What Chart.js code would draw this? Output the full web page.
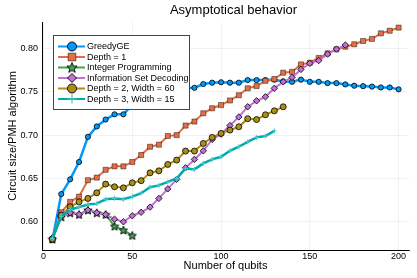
<!DOCTYPE html>
<html>
<head>
<meta charset="utf-8">
<script src="https://cdn.jsdelivr.net/npm/chart.js@4"></script>
<style>
  html, body { margin: 0; padding: 0; background: #fff; }
  #wrap { width: 417px; height: 278px; }
</style>
</head>
<body>
<div id="wrap"><canvas id="chart" width="417" height="278"></canvas></div>
<script>
// data
const qubits = [5, 10, 15, 20, 25, 30, 35, 40, 45, 50, 55, 60, 65, 70, 75, 80, 85, 90, 95, 100,
  105, 110, 115, 120, 125, 130, 135, 140, 145, 150, 155, 160, 165, 170, 175, 180, 185, 190, 195, 200];

const greedyGE = [0.579, 0.632, 0.649, 0.669, 0.698, 0.710, 0.718, 0.724, 0.724, 0.735,
  0.743, 0.748, 0.751, 0.752, 0.753, 0.754, 0.7546, 0.759, 0.7605, 0.761,
  0.7605, 0.7605, 0.7635, 0.7635, 0.7635, 0.764, 0.762, 0.7615, 0.764, 0.7615,
  0.7615, 0.760, 0.760, 0.7585, 0.757, 0.7565, 0.756, 0.755, 0.755, 0.7528];

const depth1 = [0.580, 0.611, 0.623, 0.629, 0.648, 0.651, 0.660, 0.664, 0.664, 0.669,
  0.677, 0.6866, 0.689, 0.699, 0.700, 0.711, 0.7157, 0.7252, 0.731, 0.7347,
  0.740, 0.746, 0.754, 0.7566, 0.7627, 0.7646, 0.772, 0.773, 0.7816, 0.7835,
  0.789, 0.7943, 0.799, 0.802, 0.8048, 0.8086, 0.811, 0.8174, 0.8204, 0.824];

const integerProg = [0.580, 0.6058, 0.6104, 0.6085, 0.6135, 0.6104, 0.6085, 0.595, 0.5905, 0.5843];

const infoSetDec = [0.5815, 0.6058, 0.6104, 0.6085, 0.6135, 0.6104, 0.6085, 0.6031, 0.600, 0.607,
  0.611, 0.617, 0.627, 0.638, 0.649, 0.6623, 0.672, 0.6819, 0.695, 0.7012,
  0.711, 0.721, 0.7327, 0.7396, 0.7442, 0.754, 0.7615, 0.7666, 0.7758, 0.7828,
  0.786, 0.7935, 0.7993, 0.8039];

const depth2w60 = [0.580, 0.6077, 0.6173, 0.623, 0.627, 0.6335, 0.6435, 0.6404, 0.6392, 0.645,
  0.6475, 0.6565, 0.6588, 0.6662, 0.6712, 0.6816, 0.6816, 0.6904, 0.6974, 0.702,
  0.7058, 0.7096, 0.719, 0.718, 0.7235, 0.728, 0.7327];

const depth3w15 = [0.581, 0.606, 0.614, 0.617, 0.620, 0.621, 0.626, 0.627, 0.626, 0.629,
  0.633, 0.640, 0.642, 0.646, 0.650, 0.6616, 0.6605, 0.6674, 0.672, 0.675,
  0.682, 0.6866, 0.6923, 0.6974, 0.699, 0.705];

const xTicks = [0, 50, 100, 150, 200];
const yTicks = [0.60, 0.65, 0.70, 0.75, 0.80];

const FONT = "'Liberation Sans', Arial, sans-serif";

// filled five point star for the Integer Programming markers
function makeStar(size, fill) {
  const c = document.createElement("canvas");
  c.width = size; c.height = size;
  const g = c.getContext("2d");
  const cx = size / 2, cy = size / 2 + 0.5, ro = size / 2 - 0.6, ri = ro * 0.45;
  g.beginPath();
  for (let i = 0; i < 10; i++) {
    const r = i % 2 ? ri : ro;
    const a = -Math.PI / 2 + i * Math.PI / 5;
    g.lineTo(cx + r * Math.cos(a), cy + r * Math.sin(a));
  }
  g.closePath();
  g.fillStyle = fill; g.fill();
  g.strokeStyle = "#000"; g.lineWidth = 0.9; g.stroke();
  return c;
}
const starSmall = makeStar(10, "#3ea44e");
const starBig = makeStar(12, "#3ea44e");

function pts(values) {
  return values.map((v, i) => ({ x: qubits[i], y: v }));
}

const datasets = [
  { label: "GreedyGE", data: pts(greedyGE), borderColor: "#009af9", backgroundColor: "#009af9",
    borderWidth: 2.5, pointStyle: "circle", pointRadius: 2.6, pointBorderColor: "#000", pointBorderWidth: 0.8, order: 6 },
  { label: "Depth = 1", data: pts(depth1), borderColor: "#e26f46", backgroundColor: "#e26f46",
    borderWidth: 2, pointStyle: "rect", pointRadius: 3.6, pointBorderColor: "rgba(0,0,0,0.55)", pointBorderWidth: 0.8, order: 5 },
  { label: "Integer Programming", data: pts(integerProg), borderColor: "#3ea44e", backgroundColor: "#3ea44e",
    borderWidth: 2, pointStyle: starSmall, pointRadius: 4, order: 4, legendStar: starBig },
  { label: "Information Set Decoding", data: pts(infoSetDec), borderColor: "#c271d2", backgroundColor: "#c271d2",
    borderWidth: 2, pointStyle: "rectRot", pointRadius: 3.2, pointBorderColor: "#000", pointBorderWidth: 0.8, order: 3 },
  { label: "Depth = 2, Width = 60", data: pts(depth2w60), borderColor: "#ac8d18", backgroundColor: "#ac8d18",
    borderWidth: 2, pointStyle: "circle", pointRadius: 3, pointBorderColor: "#000", pointBorderWidth: 0.8, order: 2 },
  { label: "Depth = 3, Width = 15", data: pts(depth3w15), borderColor: "#00a9ad", backgroundColor: "#00a9ad",
    borderWidth: 2.5, pointStyle: "cross", pointRadius: 2.5, pointBorderColor: "#4cc8c8", pointBorderWidth: 1, order: 1 },
];

const titlePlugin = {
  id: "plotTitle",
  afterDraw(c) {
    const ctx = c.ctx, a = c.chartArea;
    ctx.save();
    ctx.font = "13px " + FONT;
    ctx.fillStyle = "#000";
    ctx.textAlign = "center";
    ctx.textBaseline = "middle";
    ctx.fillText("Asymptotical behavior", (a.left + a.right) / 2 + 8, 10);
    ctx.restore();
  },
};

const legendPlugin = {
  id: "boxLegend",
  afterDraw(c) {
    const ctx = c.ctx, a = c.chartArea;
    const x0 = a.left + 11, y0 = a.top + 13, w = 136, h = 74;
    ctx.save();
    ctx.fillStyle = "#fff";
    ctx.fillRect(x0, y0, w, h);
    ctx.strokeStyle = "#444";
    ctx.lineWidth = 1;
    ctx.strokeRect(x0 + 0.5, y0 + 0.5, w, h);
    c.data.datasets.forEach((ds, i) => {
      const y = y0 + 11.5 + i * 10.5;
      ctx.strokeStyle = ds.borderColor;
      ctx.lineWidth = 2;
      ctx.beginPath();
      ctx.moveTo(x0 + 5, y);
      ctx.lineTo(x0 + 32, y);
      ctx.stroke();
      const mx = x0 + 19;
      if (ds.legendStar) {
        ctx.drawImage(ds.legendStar, mx - 6, y - 6);
      } else {
        ctx.fillStyle = ds.backgroundColor;
        ctx.strokeStyle = ds.pointStyle === "cross" ? ds.pointBorderColor : ds.pointBorderColor;
        ctx.lineWidth = ds.pointStyle === "cross" ? 1.2 : 0.9;
        const r = ds.pointStyle === "rect" ? 5.5 : 4.5;
        Chart.helpers.drawPoint(ctx, { pointStyle: ds.pointStyle, radius: r, rotation: 0, borderWidth: ctx.lineWidth }, mx, y);
      }
      ctx.fillStyle = "#000";
      ctx.font = "9px " + FONT;
      ctx.textAlign = "left";
      ctx.textBaseline = "middle";
      ctx.fillText(ds.label, x0 + 34, y + 0.5);
    });
    ctx.restore();
  },
};

new Chart(document.getElementById("chart"), {
  type: "line",
  data: { datasets },
  options: {
    responsive: false,
    animation: false,
    layout: { padding: { top: 22, right: 8, left: 0, bottom: 0 } },
    plugins: { legend: { display: false }, tooltip: { enabled: false }, title: { display: false } },
    elements: { line: { tension: 0 } },
    scales: {
      x: {
        type: "linear",
        min: -0.85,
        max: 205.85,
        afterBuildTicks: (s) => { s.ticks = xTicks.map((v) => ({ value: v })); },
        afterFit: (s) => { s.height = 28; },
        ticks: { color: "#000", font: { size: 9, family: FONT }, padding: 1, maxRotation: 0 },
        grid: { color: "rgba(0,0,0,0.09)", lineWidth: 0.6, drawTicks: false },
        border: { color: "#000", width: 1 },
        title: { display: true, text: "Number of qubits", color: "#000", font: { size: 11, family: FONT }, padding: { top: 2, bottom: 5 } },
      },
      y: {
        type: "linear",
        min: 0.5675,
        max: 0.8305,
        afterBuildTicks: (s) => { s.ticks = yTicks.map((v) => ({ value: v })); },
        afterFit: (s) => { s.width = 42; },
        ticks: { color: "#000", font: { size: 9, family: FONT }, padding: 4, callback: (v) => v.toFixed(2) },
        grid: { color: "rgba(0,0,0,0.09)", lineWidth: 0.6, drawTicks: false },
        border: { color: "#000", width: 1 },
        title: { display: true, text: "Circuit size/PMH algorithm", color: "#000", font: { size: 11, family: FONT }, padding: { top: 6, bottom: 2 } },
      },
    },
  },
  plugins: [titlePlugin, legendPlugin],
});
</script>
</body>
</html>
